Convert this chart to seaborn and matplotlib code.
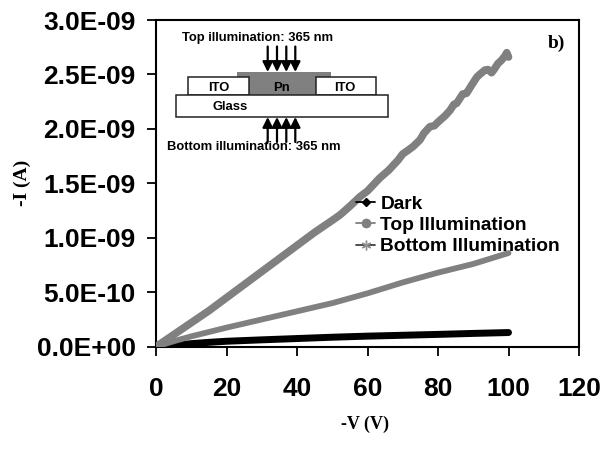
import matplotlib
matplotlib.use("Agg")
import matplotlib.pyplot as plt
from matplotlib.lines import Line2D
from matplotlib.patches import Rectangle
import pandas as pd
import seaborn as sns

series_names = ["Dark", "Top Illumination", "Bottom Illumination"]
tick_labels_y = ["0.0E+00", "5.0E-10", "1.0E-09", "1.5E-09", "2.0E-09", "2.5E-09", "3.0E-09"]

dark_v = [0, 5, 10, 15, 20, 30, 40, 50, 60, 70, 80, 90, 100]
dark_i = [0, 0.012, 0.028, 0.04, 0.05, 0.063, 0.075, 0.087, 0.097, 0.105, 0.113, 0.122, 0.13]

top_v = [0, 5, 10, 15, 20, 25, 30, 35, 40, 45, 50, 52.2, 55, 57.9, 60, 63.5, 66, 68.7, 70,
         71.6, 73, 74.9, 76, 77.7, 79, 80.1, 82, 83.4, 84.5, 85.3, 87, 88.1, 89.5, 91, 92,
         93.3, 94.2, 95.2, 96, 97, 98, 99, 99.5, 100]
top_i = [0, 0.11, 0.22, 0.33, 0.45, 0.57, 0.69, 0.81, 0.93, 1.05, 1.16, 1.21, 1.29, 1.378, 1.43,
         1.55, 1.62, 1.714, 1.77, 1.806, 1.84, 1.90, 1.96, 2.02, 2.03, 2.066, 2.12, 2.17, 2.225,
         2.235, 2.32, 2.327, 2.40, 2.475, 2.505, 2.54, 2.545, 2.516, 2.55, 2.60, 2.63, 2.67, 2.70, 2.66]

bottom_v = [0, 5, 10, 20, 30, 40, 50, 60, 70, 80, 90, 100]
bottom_i = [0, 0.05, 0.095, 0.175, 0.25, 0.325, 0.40, 0.49, 0.59, 0.68, 0.76, 0.86]

frames = [
    pd.DataFrame({"V": dark_v, "I": [v * 1e-9 for v in dark_i], "series": series_names[0]}),
    pd.DataFrame({"V": bottom_v, "I": [v * 1e-9 for v in bottom_i], "series": series_names[2]}),
    pd.DataFrame({"V": top_v, "I": [v * 1e-9 for v in top_i], "series": series_names[1]}),
]
data = pd.concat(frames, ignore_index=True)

sns.set_theme(style="white", rc={"axes.edgecolor": "black", "text.color": "black"})
plt.rcParams["font.family"] = ["Liberation Sans", "DejaVu Sans"]

W, H = 604, 450
fig = plt.figure(figsize=(W / 100, H / 100), dpi=100, facecolor="white")
ax = fig.add_axes([156 / W, 1 - 346.7 / H, (579 - 156) / W, (346.7 - 20) / H])

sns.lineplot(data=data, x="V", y="I", hue="series", hue_order=series_names,
             palette={"Dark": "black", "Top Illumination": "#808080", "Bottom Illumination": "#808080"},
             size="series", sizes={"Dark": 5.0, "Top Illumination": 5.5, "Bottom Illumination": 4.2},
             legend=False, estimator=None, sort=False, solid_capstyle="round", ax=ax, zorder=3)

ax.set_xlim(0, 120)
ax.set_ylim(0, 3e-9)
ax.set_xticks(range(0, 121, 20))
ax.set_yticks([i * 5e-10 for i in range(7)])
ax.set_yticklabels(tick_labels_y)
ax.tick_params(axis="both", direction="out", length=6.5, width=1.3, color="black",
               labelsize=19, labelcolor="black", bottom=True, left=True)
ax.tick_params(axis="x", pad=15.5)
ax.tick_params(axis="y", pad=8)
for lab in ax.get_xticklabels() + ax.get_yticklabels():
    lab.set_fontweight("bold")
for sp in ax.spines.values():
    sp.set_linewidth(1.5)
    sp.set_visible(True)
    sp.set_color("black")

ax.set_xlabel("")
ax.set_ylabel("")
serif = ["Liberation Serif", "DejaVu Serif"]
fig.text(365 / W, 1 - 424 / H, "-V (V)", family=serif, weight="bold", size=13, ha="center", va="center", color="black")
fig.text(22 / W, 1 - 183 / H, "-I (A)", family=serif, weight="bold", size=14, rotation=90, ha="center", va="center", color="black")
fig.text(556 / W, 1 - 43 / H, "b)", family=serif, weight="bold", size=14, ha="center", va="center", color="black")

handles = [
    Line2D([], [], color="black", lw=1.3, marker="D", ms=4, mfc="black", mec="black"),
    Line2D([], [], color="#808080", lw=1.3, marker="o", ms=6, mfc="#808080", mec="#808080"),
    Line2D([], [], color="#404040", lw=1.3, marker=(6, 2, 0), ms=7, mfc="#909090", mec="#909090"),
]
ax.legend(handles, series_names, loc="upper left",
          bbox_to_anchor=((356 - 156) / (579 - 156), 1 - (195.5 - 20) / (346.7 - 20)),
          frameon=False, labelcolor="black",
          prop={"weight": "bold", "size": 13.8, "family": "Liberation Sans"},
          handlelength=1.0, handletextpad=0.27, labelspacing=0.2, borderpad=0, borderaxespad=0)

# Device schematic, drawn in pixel coordinates of the reference
sch = fig.add_axes([0, 0, 1, 1], facecolor="none")
sch.set_xlim(0, W)
sch.set_ylim(H, 0)
sch.axis("off")
sch.set_zorder(5)
def box(x0, y0, x1, y1, fc, ec="#222222", lw=1.1):
    sch.add_patch(Rectangle((x0, y0), x1 - x0, y1 - y0, fc=fc, ec=ec, lw=lw))
box(237, 72, 331, 77, "#808080", ec="#808080", lw=0)
box(249, 76, 316, 95.3, "#808080", ec="#808080", lw=0)
box(188, 77.3, 249, 95.3, "white")
box(316, 77.3, 375.7, 95.3, "white")
box(175.7, 95.3, 387.7, 117, "white")
for x in (267.7, 277, 286.3, 295.3):
    sch.annotate("", xy=(x, 72), xytext=(x, 46.5),
                 arrowprops=dict(arrowstyle="-|>,head_width=0.25,head_length=0.5", color="black", lw=1.6, shrinkA=0, shrinkB=0))
    sch.annotate("", xy=(x, 117), xytext=(x, 142),
                 arrowprops=dict(arrowstyle="-|>,head_width=0.25,head_length=0.5", color="black", lw=1.6, shrinkA=0, shrinkB=0))
def label(x, y, s):
    sch.text(x, y, s, ha="center", va="center", weight="bold", size=9.4, color="black")
label(258, 38, "Top illumination: 365 nm")
label(254, 147, "Bottom illumination: 365 nm")
label(218.7, 88.3, "ITO")
label(281.7, 88.3, "Pn")
label(345, 88.3, "ITO")
label(230, 106.7, "Glass")

fig.savefig("out.png", dpi=100, facecolor="white")
